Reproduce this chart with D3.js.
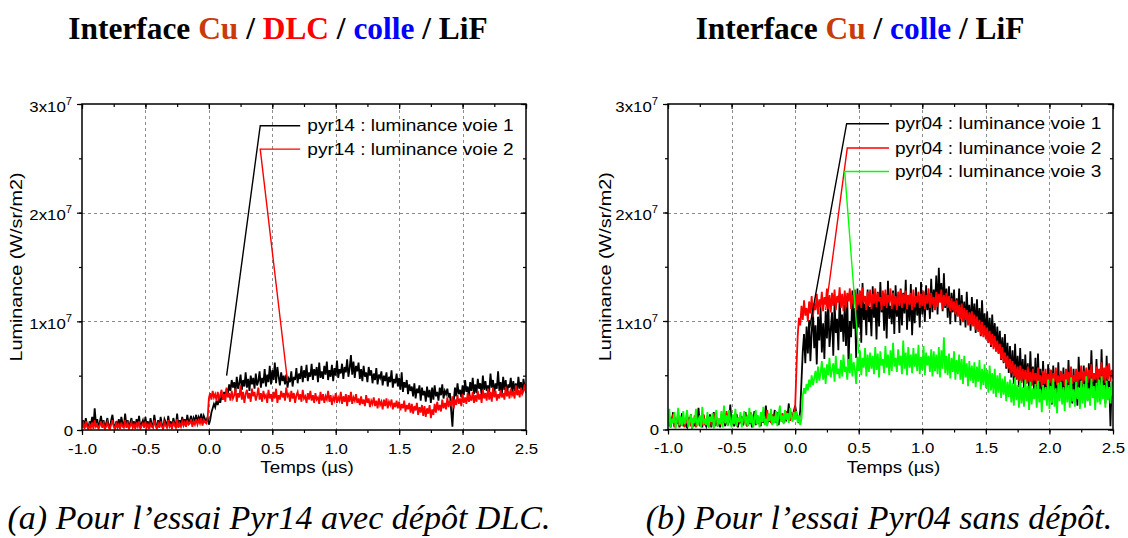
<!DOCTYPE html>
<html><head><meta charset="utf-8">
<script src="https://cdn.jsdelivr.net/npm/d3@7"></script>
<style>body{margin:0;background:#fff} svg{display:block}</style>
</head><body><svg id="c" width="1128" height="538"></svg>
<script>
// ---------------- DATA (luminance in units of 1e6 W/sr/m2, sampled every 0.01 µs from -1.00 to 2.50 µs) ----------------
const timeStart = -1.0, timeStep = 0.01;
const xTickValues = [-1.0, -0.5, 0.0, 0.5, 1.0, 1.5, 2.0, 2.5];
const yTickValues = [0, 1e7, 2e7, 3e7];
const yTickMantissa = ["0", "1x10", "2x10", "3x10"];
const yTickExponent = ["", "7", "7", "7"];

const pyr14_voie1 = [
0.3,0.9,0.2,1.1,0.5,0.1,0.8,0.4,1.2,0.3,
2.0,0.6,1.0,0.2,0.7,1.3,0.3,0.9,0.1,0.6,
1.1,0.4,0.2,0.9,1.4,0.5,0.1,0.8,0.3,1.0,
0.2,1.2,0.6,0.3,1.5,0.4,0.9,0.1,0.7,1.1,
0.3,0.8,0.2,1.0,0.5,1.3,0.2,0.6,0.9,0.3,
1.2,0.4,0.8,0.1,1.1,0.5,0.3,1.4,0.6,0.2,
0.9,0.3,1.2,0.5,0.2,1.0,0.7,0.3,1.3,0.4,
0.8,0.2,1.1,0.6,0.4,1.5,0.3,0.9,0.5,1.2,
0.6,1.0,0.4,1.4,0.7,0.9,1.3,0.5,1.1,0.8,
1.4,0.7,1.2,0.9,1.5,0.6,1.3,1.0,0.8,1.2,
0.5,0.9,1.6,2.0,2.4,2.1,2.7,2.3,2.9,2.5,
3.2,2.8,3.5,3.0,3.8,3.3,4.2,3.6,4.6,3.9,
4.4,3.5,4.9,3.8,4.3,5.1,3.7,4.6,4.0,5.3,
3.9,4.7,3.6,5.0,4.2,4.8,3.8,5.2,4.1,4.5,
5.4,3.9,4.8,4.3,5.6,4.0,5.1,4.4,5.9,4.2,
5.5,4.6,6.2,4.3,5.8,4.9,4.1,5.3,4.5,5.0,
4.2,5.1,3.9,4.7,4.4,5.4,4.0,4.9,4.6,5.7,
4.3,5.2,4.7,5.9,4.4,5.5,4.8,6.0,4.5,5.3,
4.9,6.1,4.6,5.6,5.0,5.8,4.4,6.2,4.8,5.4,
4.7,5.9,5.1,6.3,4.6,5.5,4.9,6.0,4.5,5.7,
5.0,6.4,4.8,5.6,5.2,6.1,4.7,5.8,5.3,6.5,
4.9,5.7,6.9,5.1,6.3,4.8,5.9,5.4,6.2,4.7,
5.6,4.5,5.9,4.9,5.3,4.4,5.8,5.0,5.5,4.3,
5.2,4.6,5.7,4.2,5.1,4.8,5.4,4.1,5.0,4.5,
5.3,4.0,4.9,4.4,5.5,3.9,4.7,4.3,5.2,4.0,
4.8,3.7,5.3,3.5,4.4,3.9,4.6,3.3,4.2,3.6,
4.0,3.1,4.3,2.9,3.8,3.4,4.1,2.7,3.9,3.2,
3.6,2.6,4.0,3.0,3.7,2.5,3.9,2.8,4.1,3.1,
3.5,2.7,3.9,3.2,4.2,2.9,3.6,3.3,3.8,3.0,
3.4,1.8,0.3,2.6,3.9,3.1,4.3,3.3,3.7,3.0,
4.1,3.2,4.6,3.5,4.0,3.1,4.4,3.6,4.8,3.3,
4.2,3.4,4.7,3.8,4.3,3.2,5.0,3.7,4.5,3.6,
4.1,3.5,5.2,3.9,4.6,3.4,4.3,3.8,5.4,3.6,
4.4,3.3,4.9,3.7,4.6,3.2,4.2,3.9,4.8,3.5,
4.5,3.6,4.3,3.4,4.9,3.8,4.4,3.3,4.7,3.9,
4.2];

const pyr14_voie2 = [
0.2,0.6,0.1,0.8,0.3,0.1,0.5,0.2,0.7,0.1,
0.9,0.3,0.5,0.1,0.4,0.8,0.2,0.6,0.1,0.3,
0.7,0.2,0.1,0.5,0.9,0.3,0.1,0.6,0.2,0.5,
0.1,0.7,0.3,0.2,0.9,0.2,0.6,0.1,0.4,0.7,
0.2,0.5,0.1,0.7,0.3,0.8,0.1,0.4,0.6,0.2,
0.8,0.2,0.5,0.1,0.7,0.3,0.2,0.9,0.4,0.1,
0.6,0.2,0.8,0.3,0.1,0.7,0.4,0.2,0.9,0.3,
0.5,0.1,0.8,0.4,0.2,1.0,0.2,0.6,0.3,0.8,
0.4,0.7,0.3,0.9,0.5,0.6,1.0,0.3,0.8,0.5,
1.0,0.5,0.9,0.6,1.1,0.4,0.9,0.7,0.6,1.0,
2.9,3.4,2.8,3.6,3.0,3.3,2.7,3.5,2.9,3.2,
3.7,2.8,3.3,2.6,3.9,3.0,3.4,2.7,3.6,2.9,
3.2,3.8,2.6,3.4,3.0,4.1,2.8,3.5,2.5,3.3,
3.7,2.9,3.4,2.6,3.8,3.1,3.5,2.7,3.2,3.9,
2.8,3.4,2.6,3.6,3.0,3.2,2.5,3.7,2.9,3.3,
2.6,3.5,2.9,3.8,2.5,3.2,2.8,3.6,3.0,3.4,
2.7,3.9,3.1,3.3,2.6,3.6,2.9,3.4,2.5,3.2,
3.5,2.8,3.3,2.6,3.7,2.9,3.1,2.5,3.4,2.8,
3.6,2.7,3.2,2.5,3.4,2.8,3.0,2.4,3.5,2.7,
3.3,2.5,3.1,2.8,3.6,2.6,3.2,2.3,3.0,2.7,
3.4,2.5,3.0,2.7,3.5,2.4,3.1,2.6,3.3,2.2,
3.2,2.6,3.5,2.4,3.0,2.7,3.3,2.5,2.9,2.3,
3.1,2.4,2.8,2.2,3.2,2.5,2.9,2.1,2.7,2.4,
3.0,2.2,2.7,2.0,2.9,2.3,2.6,1.9,2.8,2.2,
2.9,2.0,2.6,2.3,2.8,1.9,2.5,2.1,2.7,2.0,
2.6,1.8,2.4,2.0,2.7,1.7,2.3,1.9,2.5,1.6,
2.4,1.5,2.2,1.8,2.5,1.4,2.1,1.6,2.3,1.3,
2.2,1.2,2.0,1.5,2.3,1.1,1.9,1.4,2.4,1.6,
2.6,1.8,2.3,1.7,2.8,2.0,2.5,1.9,3.0,2.1,
2.7,2.2,3.1,2.0,2.8,2.3,3.2,2.4,2.9,2.2,
3.3,2.5,3.0,2.4,3.4,2.6,3.1,2.7,3.5,2.5,
3.2,2.6,3.6,2.8,3.3,2.5,3.7,2.9,3.4,2.7,
3.8,2.8,3.5,2.6,3.9,3.0,3.6,2.7,3.3,2.9,
3.7,3.0,3.4,2.8,4.0,3.1,3.6,2.9,3.8,3.2,
3.5,2.9,4.1,3.2,3.7,3.0,3.9,3.3,3.6,4.2,
3.4];

const pyr04_voie1 = [
0.4,1.2,0.2,0.8,1.6,0.3,0.9,0.5,1.3,0.2,
0.7,1.5,0.3,1.0,0.4,0.2,1.1,0.6,1.4,0.1,
0.8,0.3,1.2,0.5,2.0,0.4,0.9,0.2,1.3,0.6,
0.3,1.0,0.5,1.4,0.2,0.8,1.6,0.4,1.1,0.3,
0.9,0.2,1.3,0.6,1.0,0.3,1.5,0.4,0.8,2.3,
0.5,1.1,0.3,0.9,1.4,0.2,1.0,0.6,1.2,0.4,
0.8,1.6,0.3,1.1,0.5,1.3,0.2,0.9,1.7,0.4,
1.2,0.5,1.0,0.3,1.5,0.6,1.1,2.2,0.4,1.3,
0.7,1.4,0.5,1.0,1.8,0.6,1.2,0.4,1.5,0.9,
1.3,0.6,1.6,0.9,1.2,2.4,0.8,1.4,1.1,1.7,
2.2,1.5,1.0,0.6,1.8,4.5,7.2,8.8,6.1,9.5,
7.0,10.1,6.3,8.9,11.0,7.5,9.6,6.0,10.4,8.2,
11.3,7.1,9.8,6.5,10.9,8.4,12.0,7.6,9.2,10.8,
6.8,11.7,8.9,10.2,7.3,12.4,9.0,10.6,8.1,11.5,
7.7,12.1,5.9,10.0,8.5,12.8,9.3,11.2,6.6,13.0,
9.4,12.3,8.0,13.5,10.1,11.6,8.7,12.9,9.9,11.3,
8.6,13.2,10.3,11.9,8.3,12.7,9.5,13.6,10.8,12.1,
9.1,12.5,8.4,13.7,10.2,11.4,9.7,12.8,8.8,13.3,
10.4,12.2,8.9,13.0,9.6,12.6,10.7,13.8,9.2,12.4,
10.0,13.4,8.7,12.0,9.8,13.1,10.5,12.3,9.4,13.6,
10.6,12.7,9.9,13.3,11.0,12.5,10.2,13.9,10.8,12.9,
11.4,14.2,10.6,14.9,11.8,13.5,10.9,14.4,11.2,13.0,
10.3,13.2,9.7,12.6,10.8,12.9,9.9,12.1,10.5,13.0,
9.6,12.4,10.2,11.8,9.4,12.7,10.0,11.5,9.1,12.2,
9.8,11.6,8.9,12.0,9.3,11.2,8.6,11.9,9.0,10.7,
8.4,10.9,8.0,10.3,7.6,10.6,7.9,9.8,7.2,9.5,
7.0,9.1,6.4,8.5,6.1,8.8,5.6,8.0,5.2,7.7,
4.8,7.3,4.2,7.9,4.6,6.8,3.9,7.5,4.4,6.5,
3.8,6.9,4.3,6.1,3.5,7.2,4.1,5.8,3.3,6.6,
3.0,7.0,3.7,5.6,2.8,6.3,3.4,5.2,2.5,6.0,
3.2,5.5,2.3,5.9,3.6,4.8,2.7,6.2,3.1,5.1,
2.6,5.7,3.3,4.9,2.9,6.4,3.5,5.0,2.4,5.6,
3.0,4.7,2.2,6.7,3.8,5.3,2.8,5.9,3.4,4.6,
2.7,6.1,3.5,7.3,3.9,5.2,2.9,6.5,3.3,5.4,
2.6,7.4,3.6,5.1,2.4,6.8,3.2,4.5,0.3,4.4,
3.9];

const pyr04_voie2 = [
0.5,1.1,0.3,0.8,1.4,0.2,0.9,0.6,1.6,0.3,
0.9,0.4,1.2,0.2,0.7,1.5,0.4,1.0,0.3,0.8,
0.5,1.3,0.2,0.7,1.1,0.3,0.9,0.6,1.4,0.4,
0.8,1.2,0.2,1.0,0.5,0.9,1.5,0.3,1.1,0.6,
1.0,0.4,1.4,0.7,1.1,0.5,1.7,0.8,1.2,0.9,
0.4,1.2,0.6,1.5,0.3,1.0,0.7,1.3,0.5,1.1,
0.6,1.4,0.3,1.1,0.8,1.6,0.4,0.9,1.2,0.5,
1.3,0.6,1.0,0.4,1.5,0.7,1.2,0.5,1.8,0.8,
1.1,0.6,1.4,0.9,1.2,0.7,1.6,1.0,1.3,0.8,
1.5,0.9,1.2,1.7,1.0,1.4,0.8,1.6,1.1,1.3,
2.0,5.5,8.6,10.3,9.6,11.4,10.1,11.9,10.5,11.2,
10.0,11.8,10.7,12.3,10.4,11.6,11.0,12.5,10.6,12.0,
11.3,12.7,10.9,12.2,11.5,13.0,11.1,12.4,10.8,12.6,
11.4,12.9,11.0,12.3,11.7,13.1,11.2,12.5,10.9,12.8,
11.3,12.6,11.8,13.0,11.1,12.4,11.6,12.9,11.0,12.5,
11.5,12.8,11.2,13.1,11.7,12.3,11.0,12.7,11.4,12.9,
11.1,12.5,11.6,13.0,11.3,12.6,11.8,12.2,11.0,12.8,
11.4,12.9,11.2,12.4,11.7,13.0,11.1,12.6,11.5,12.3,
11.0,12.7,11.4,12.9,11.2,12.5,11.6,12.8,11.1,12.4,
11.5,12.6,11.0,12.9,11.3,12.3,11.7,12.7,11.2,12.5,
11.4,12.8,11.1,12.4,11.6,13.0,11.2,12.6,11.5,12.2,
11.0,12.7,11.3,12.5,11.7,12.9,11.1,12.4,11.4,12.6,
11.2,12.3,10.9,12.1,11.0,11.8,10.6,11.9,10.4,11.5,
10.2,11.6,9.9,11.2,10.1,11.0,9.6,10.8,9.7,10.9,
9.5,10.6,9.2,10.4,9.0,10.1,8.7,9.9,8.5,9.6,
8.3,9.4,8.0,9.1,7.8,8.8,7.4,8.6,7.2,8.2,
7.0,7.9,6.5,7.6,6.2,7.1,5.8,6.8,5.6,6.5,
5.2,6.3,4.9,6.0,4.7,5.8,4.5,5.9,4.3,5.6,
4.6,5.5,4.2,5.8,4.4,5.3,4.0,5.6,4.5,5.2,
4.1,5.7,4.4,5.0,3.9,5.4,4.2,5.6,4.0,5.1,
4.3,5.5,3.8,5.2,4.4,5.7,4.1,5.0,3.9,5.4,
4.5,5.1,4.0,5.6,4.3,5.3,3.9,5.8,4.2,5.0,
4.4,5.6,4.1,5.3,4.6,5.9,4.2,5.4,4.5,5.7,
4.3,5.5,4.7,6.0,4.4,5.2,4.6,5.8,4.2,5.6,
4.8,6.2,4.5,5.7,4.3,5.9,4.6,6.1,4.4,5.5,
4.7];

const pyr04_voie3 = [
0.3,1.9,0.2,1.0,0.6,1.6,0.1,0.8,2.0,0.4,
1.2,0.3,1.7,0.5,0.9,1.8,0.2,0.7,1.4,0.1,
1.1,0.6,1.9,0.3,0.8,1.3,0.2,2.1,0.5,1.0,
0.4,1.6,0.2,1.2,0.7,1.5,0.1,0.9,1.8,0.3,
1.0,0.5,1.7,0.2,2.2,0.6,1.3,0.3,1.8,0.8,
0.2,1.4,0.5,1.9,0.3,1.1,0.7,1.6,0.2,1.0,
1.7,0.4,1.2,0.3,2.0,0.6,1.4,0.2,0.9,1.8,
0.5,1.3,0.2,1.6,0.7,2.1,0.4,1.0,0.3,1.5,
0.8,1.9,0.4,1.2,0.6,1.7,0.3,1.4,2.2,0.7,
1.3,0.5,1.8,0.9,1.5,0.6,2.0,1.1,0.7,1.6,
0.9,1.7,0.6,1.3,0.4,1.0,3.1,3.8,3.3,4.2,
3.6,4.6,3.9,5.0,4.1,4.7,5.4,4.3,5.8,4.5,
5.2,6.3,4.6,5.7,4.2,6.0,5.0,6.6,4.8,5.5,
6.1,4.4,6.8,5.1,5.6,4.7,6.4,4.9,6.9,5.3,
5.8,4.6,6.5,5.2,7.0,4.9,6.2,5.5,4.2,6.7,
5.4,7.3,5.0,6.6,5.7,7.5,4.9,6.9,5.3,7.1,
5.6,6.8,5.1,7.6,5.5,7.0,4.8,7.2,5.9,6.5,
5.2,7.7,5.7,6.9,5.0,7.3,5.4,8.0,5.8,6.6,
5.3,7.4,5.9,6.8,5.1,8.2,5.6,7.1,5.0,7.6,
5.7,6.9,5.2,7.5,5.8,7.0,5.4,7.8,5.1,6.7,
5.5,7.7,5.0,7.1,5.9,6.8,5.3,7.4,4.9,7.2,
5.4,6.9,5.1,7.6,4.8,7.3,5.6,8.5,5.2,6.8,
5.0,7.0,4.7,6.6,5.3,7.2,4.6,6.4,5.1,6.9,
4.6,6.5,4.2,6.8,4.8,6.1,4.0,6.3,4.5,5.9,
4.3,6.2,3.9,5.8,4.4,6.4,3.7,5.6,4.1,6.0,
3.8,5.5,3.4,5.9,3.6,5.2,3.3,5.6,3.0,5.0,
3.4,5.2,2.9,4.7,3.2,4.9,2.6,4.4,3.0,4.6,
2.5,4.3,2.2,4.8,2.7,4.1,2.0,4.5,2.4,3.9,
2.1,4.6,2.6,4.0,1.8,4.4,2.3,3.8,2.8,4.2,
2.0,4.5,2.5,3.7,1.6,4.1,2.7,3.9,2.2,4.6,
1.9,4.0,2.4,4.7,2.1,3.8,1.5,4.3,2.6,4.4,
2.3,3.9,1.7,4.6,2.5,4.1,2.0,4.8,2.6,3.7,
2.1,4.4,2.8,3.9,1.9,4.5,2.4,4.2,2.0,4.9,
2.6,3.8,2.2,4.7,2.9,4.0,1.8,4.3,2.5,4.6,
2.3,4.9,2.8,4.1,2.0,4.5,2.7,3.9,2.4,4.4,
2.9];

// legend sample traces joined to the curves as in the original plot: [time µs, luminance 1e6]
const pyr14_link1 = [[0.14, 5.0], [0.405, 28.0], [0.72, 28.0]];
const pyr14_link2 = [[0.62, 4.5], [0.405, 25.85], [0.72, 25.85]];
const pyr04_link1 = [[0.10, 8.5], [0.405, 28.18], [0.738, 28.18]];
const pyr04_link2 = [[0.24, 11.0], [0.41, 25.94], [0.738, 25.94]];
const pyr04_link3 = [[0.50, 7.0], [0.39, 23.78], [0.738, 23.78]];

const legend14 = ["pyr14 : luminance voie 1", "pyr14 : luminance voie 2"];
const legend04 = ["pyr04 : luminance voie 1", "pyr04 : luminance voie 2", "pyr04 : luminance voie 3"];

const title14 = [["Interface ", "#000"], ["Cu", "#c83c0c"], [" / ", "#000"], ["DLC", "#ff0000"], [" / ", "#000"], ["colle", "#0000ff"], [" / LiF", "#000"]];
const title04 = [["Interface ", "#000"], ["Cu", "#c83c0c"], [" / ", "#000"], ["colle", "#0000ff"], [" / LiF", "#000"]];
const caption14 = "(a) Pour l\u2019essai Pyr14 avec d\u00e9p\u00f4t DLC.";
const caption04 = "(b) Pour l\u2019essai Pyr04 sans d\u00e9p\u00f4t.";
const xLabel = "Temps (\u00b5s)";
const yLabel = "Luminance (W/sr/m2)";

// ---------------- DRAW ----------------
const svg = d3.select('#c');
const SANS = '"Liberation Sans", Arial, Helvetica, sans-serif';
const SERIF = '"Liberation Serif", "Times New Roman", serif';

const panels = [
  {id: 'a', left: 82, right: 526, top: 104, bottom: 430, yLabX: 22, titleX: 278, capX: 279,
   series: [{v: pyr14_voie1, c: '#000'}, {v: pyr14_voie2, c: '#ff0000'}],
   links: [{p: pyr14_link1, c: '#000'}, {p: pyr14_link2, c: '#ff0000'}],
   legend: legend14, legendX: 0.776, legendY: [28.0, 25.85], title: title14, caption: caption14},
  {id: 'b', left: 668, right: 1113, top: 104, bottom: 429.5, yLabX: 611, titleX: 860, capX: 879,
   series: [{v: pyr04_voie1, c: '#000'}, {v: pyr04_voie2, c: '#ff0000'}, {v: pyr04_voie3, c: '#00ff00'}],
   links: [{p: pyr04_link1, c: '#000'}, {p: pyr04_link2, c: '#ff0000'}, {p: pyr04_link3, c: '#00ff00'}],
   legend: legend04, legendX: 0.785, legendY: [28.18, 25.94, 23.78], title: title04, caption: caption04}
];

panels.forEach(p => {
  const x = d3.scaleLinear().domain([-1, 2.5]).range([p.left, p.right]);
  const y = d3.scaleLinear().domain([0, 3e7]).range([p.bottom, p.top]);
  const g = svg.append('g');

  const clipId = 'clip' + p.id;
  svg.append('clipPath').attr('id', clipId).append('rect')
    .attr('x', p.left).attr('y', p.top).attr('width', p.right - p.left).attr('height', p.bottom - p.top);

  // grid
  const grid = g.append('g').attr('stroke', '#8c8c8c').attr('stroke-width', 1).attr('stroke-dasharray', '3,3');
  xTickValues.slice(1, -1).forEach(t => grid.append('line')
    .attr('x1', Math.round(x(t)) + 0.5).attr('x2', Math.round(x(t)) + 0.5).attr('y1', p.top).attr('y2', p.bottom));
  yTickValues.slice(1, -1).forEach(t => grid.append('line')
    .attr('y1', Math.round(y(t)) + 0.5).attr('y2', Math.round(y(t)) + 0.5).attr('x1', p.left).attr('x2', p.right));

  // series
  const line = d3.line().x((d, i) => x(timeStart + i * timeStep)).y(d => y(d * 1e6));
  const dg = g.append('g').attr('clip-path', `url(#${clipId})`);
  p.series.forEach(s => dg.append('path').attr('d', line(s.v)).attr('fill', 'none')
    .attr('stroke', s.c).attr('stroke-width', 1.8).attr('stroke-linejoin', 'miter'));
  const lline = d3.line().x(d => x(d[0])).y(d => y(d[1] * 1e6));
  p.links.forEach(s => dg.append('path').attr('d', lline(s.p)).attr('fill', 'none')
    .attr('stroke', s.c).attr('stroke-width', 1.4));

  // legend text
  p.legend.forEach((txt, i) => {
    g.append('text').attr('transform', `translate(${x(p.legendX)},${y(p.legendY[i] * 1e6) + 5.5}) scale(1.19,1)`)
      .attr('font-family', SANS).attr('font-size', 16).attr('fill', '#000').text(txt);
  });

  // axes
  const ax = g.append('g').attr('font-family', SANS);
  const minorX = d3.range(-1, 2.5001, 0.25);
  const minorY = d3.range(0, 3e7 + 1, 5e6);
  ax.append('g').attr('transform', `translate(0,${p.bottom})`)
    .call(d3.axisBottom(x).tickValues(minorX).tickSize(3).tickFormat(''));
  ax.append('g').attr('transform', `translate(0,${p.bottom})`)
    .call(d3.axisBottom(x).tickValues(xTickValues).tickSize(5).tickFormat(d => d.toFixed(1)))
    .call(a => a.selectAll('text').attr('font-size', 15).attr('fill', '#000').attr('y', 13)
      .attr('transform', 'scale(1.12,1)'));
  ax.append('g').attr('transform', `translate(0,${p.top})`)
    .call(d3.axisTop(x).tickValues(minorX).tickSize(-3).tickFormat(''));
  ax.append('g').attr('transform', `translate(0,${p.top})`)
    .call(d3.axisTop(x).tickValues(xTickValues).tickSize(-5).tickFormat(''));
  ax.append('g').attr('transform', `translate(${p.left},0)`)
    .call(d3.axisLeft(y).tickValues(minorY).tickSize(3).tickFormat(''));
  const yl = ax.append('g').attr('transform', `translate(${p.left},0)`)
    .call(d3.axisLeft(y).tickValues(yTickValues).tickSize(5).tickFormat(''));
  yl.selectAll('.tick').each(function (d, i) {
    const t = d3.select(this).append('text').attr('fill', '#000').attr('font-size', 15)
      .attr('text-anchor', 'end').attr('transform', `translate(${i === 0 ? -9 : -10},${i === 0 ? 5 : 7}) scale(1.12,1)`);
    t.append('tspan').text(yTickMantissa[i]);
    if (yTickExponent[i]) t.append('tspan').attr('font-size', 10).attr('dy', -7).text(yTickExponent[i]);
  });
  ax.append('g').attr('transform', `translate(${p.right},0)`)
    .call(d3.axisRight(y).tickValues(minorY).tickSize(-3).tickFormat(''));
  ax.append('g').attr('transform', `translate(${p.right},0)`)
    .call(d3.axisRight(y).tickValues(yTickValues).tickSize(-5).tickFormat(''));
  ax.selectAll('.domain').remove();
  ax.selectAll('line').attr('stroke', '#000').attr('stroke-width', 1.2);

  // frame
  g.append('rect').attr('x', p.left).attr('y', p.top).attr('width', p.right - p.left).attr('height', p.bottom - p.top)
    .attr('fill', 'none').attr('stroke', '#000').attr('stroke-width', 1.5);

  // axis titles
  g.append('text').attr('transform', `translate(${(p.left + p.right) / 2 + 3},${p.bottom + 43}) scale(1.14,1)`)
    .attr('text-anchor', 'middle').attr('font-family', SANS).attr('font-size', 16.5).text(xLabel);
  g.append('text').attr('transform', `translate(${p.yLabX},${(p.top + p.bottom) / 2}) rotate(-90) scale(1.2,1)`)
    .attr('text-anchor', 'middle').attr('font-family', SANS).attr('font-size', 16.5).text(yLabel);

  // title
  const tt = svg.append('text').attr('x', p.titleX).attr('y', 39).attr('text-anchor', 'middle')
    .attr('font-family', SERIF).attr('font-weight', 'bold').attr('font-size', 31.4);
  p.title.forEach(([s, c]) => tt.append('tspan').attr('fill', c).text(s));

  // caption
  svg.append('text').attr('x', p.capX).attr('y', 529).attr('text-anchor', 'middle')
    .attr('font-family', SERIF).attr('font-style', 'italic').attr('font-size', 34).text(p.caption);
});
</script></body></html>
